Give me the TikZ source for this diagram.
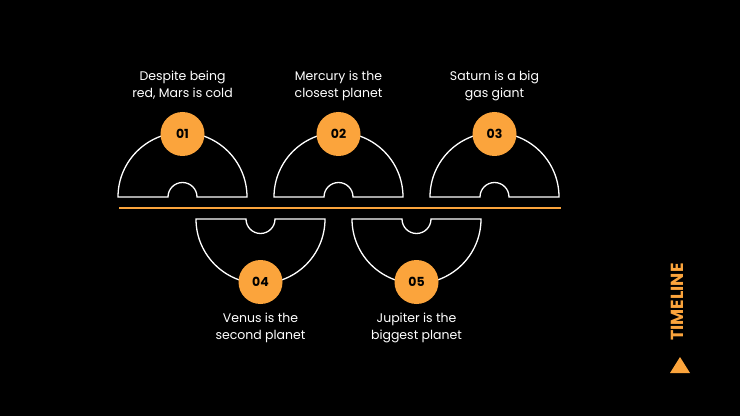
\documentclass[tikz,border=0pt]{standalone}
\usepackage{fontspec}
\setmainfont{Poppins}
\definecolor{tlorange}{HTML}{FBA43C}
\begin{document}
\begin{tikzpicture}[x=1pt,y=1pt,
        cup/.style={white, line width=1.3pt},
        numdot/.style={circle, fill=tlorange, minimum size=44pt, inner sep=0pt, font=\fontsize{12.5}{12.5}\selectfont\bfseries, text=black},
        caption/.style={align=center, text=white, font=\fontsize{12.5}{17}\selectfont}]
        \fill[black] (0,0) rectangle (740,416);
        % upper cups
        \draw[cup] (118,219) arc[start angle=180,end angle=0,radius=64.5] -- (197,219) arc[start angle=0,end angle=180,radius=14.5] -- cycle;
        \draw[cup] (274,219) arc[start angle=180,end angle=0,radius=64.5] -- (353,219) arc[start angle=0,end angle=180,radius=14.5] -- cycle;
        \draw[cup] (430,219) arc[start angle=180,end angle=0,radius=64.5] -- (509,219) arc[start angle=0,end angle=180,radius=14.5] -- cycle;
        % lower cups
        \draw[cup] (196,197) arc[start angle=180,end angle=360,radius=64.5] -- (275,197) arc[start angle=0,end angle=-180,radius=14.5] -- cycle;
        \draw[cup] (352,197) arc[start angle=180,end angle=360,radius=64.5] -- (431,197) arc[start angle=0,end angle=-180,radius=14.5] -- cycle;
        % orange line
        \coordinate (LS) at (119,208);
        \coordinate (LE) at (561,208);
        \draw[tlorange, line width=1.3pt] (LS) -- (LE);
        \node[numdot] (N1) at (182.5,282) {01};
        \node[numdot] (N2) at (338.5,282) {02};
        \node[numdot] (N3) at (494.5,282) {03};
        \node[numdot] (N4) at (260.5,134) {04};
        \node[numdot] (N5) at (416.5,134) {05};
        \node[caption] (T1) at (182.5,330.5) {Despite being\\red, Mars is cold};
        \node[caption] (T2) at (338.5,330.5) {Mercury is the\\closest planet};
        \node[caption] (T3) at (494.5,330.5) {Saturn is a big\\gas giant};
        \node[caption] (T4) at (260.5,88.5) {Venus is the\\second planet};
        \node[caption] (T5) at (416.5,88.5) {Jupiter is the\\biggest planet};
        \node[rotate=90, text=tlorange, font=\fontsize{17.5}{17.5}\selectfont\bfseries] (TL) at (677,114) {TIMELINE};
        \fill[tlorange] (670,43) -- (690,43) -- (680,59) -- cycle;
\end{tikzpicture}
\end{document}
